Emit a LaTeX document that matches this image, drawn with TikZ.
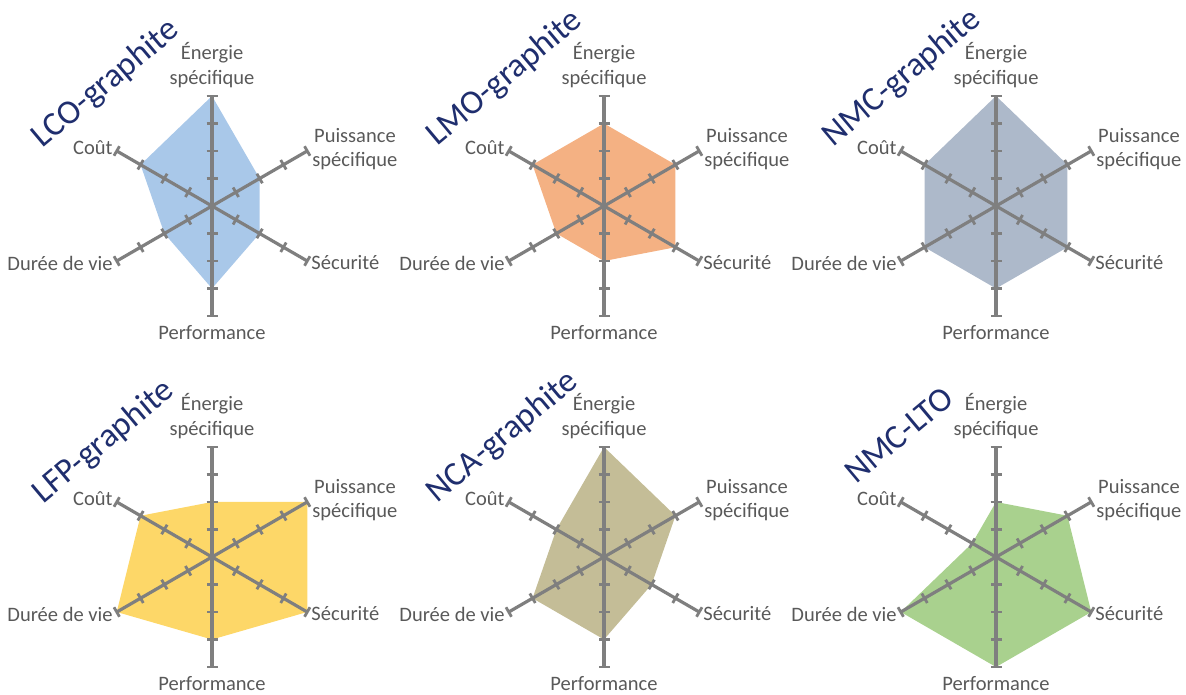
\documentclass[tikz,border=0pt]{standalone}
\usepackage{fontspec}
\setmainfont{Carlito}
\usetikzlibrary{calc}
\definecolor{axisgray}{HTML}{7F7F7F}
\definecolor{labelgray}{HTML}{595959}
\definecolor{titleblue}{HTML}{1F2E6E}
\definecolor{clco}{HTML}{A9C8E9}
\definecolor{clmo}{HTML}{F4B183}
\definecolor{cnmc}{HTML}{ADB9CA}
\definecolor{clfp}{HTML}{FDD768}
\definecolor{cnca}{HTML}{C4BD97}
\definecolor{clto}{HTML}{A9D18E}
\tikzset{
  axisline/.style={draw=axisgray, line width=3.2pt},
  tickline/.style={draw=axisgray, line width=2.8pt},
  axislabel/.style={text=labelgray, font=\fontsize{20.5}{24.5}\selectfont, inner sep=0pt, align=center},
  charttitle/.style={text=titleblue, font=\fontsize{34}{38}\selectfont, rotate=40, fill=white, inner sep=0pt},
}
\newcommand\radarcoords[3]{%
  \coordinate (#1c) at (#2,#3);
  \coordinate (#1e) at ($(#1c)+(90:110)$);
  \coordinate (#1p) at ($(#1c)+(30:110)$);
  \coordinate (#1s) at ($(#1c)+(-30:110)$);
  \coordinate (#1f) at ($(#1c)+(-90:110)$);
  \coordinate (#1d) at ($(#1c)+(210:110)$);
  \coordinate (#1k) at ($(#1c)+(150:110)$);
}
\newcommand\radarpoly[8]{%
  \fill[#2] ($(#1c)+(90:27.5*#3)$) -- ($(#1c)+(30:27.5*#4)$) -- ($(#1c)+(-30:27.5*#5)$)
    -- ($(#1c)+(-90:27.5*#6)$) -- ($(#1c)+(210:27.5*#7)$) -- ($(#1c)+(150:27.5*#8)$) -- cycle;
}
\newcommand\radaraxes[1]{%
  \foreach \n/\a in {e/90,p/30,s/-30,f/-90,d/210,k/150}{
    \draw[axisline] (#1c) -- (#1\n);
    \foreach \k in {1,...,4}{
      \draw[tickline] ($(#1c)+(\a:27.5*\k)+(\a+90:5.5)$) -- ($(#1c)+(\a:27.5*\k)+(\a-90:5.5)$);
    }
  }
  \node[axislabel, anchor=south] (#1le) at ($(#1e)+(0,8)$) {Énergie\\spécifique};
  \node[axislabel, anchor=west] (#1lp) at ($(#1p)+(5,2)$) {Puissance\\spécifique};
  \node[axislabel, anchor=west] (#1ls) at ($(#1s)+(4,-2)$) {Sécurité};
  \node[axislabel, anchor=north] (#1lf) at ($(#1f)+(0,-9)$) {Performance};
  \node[axislabel, anchor=east] (#1ld) at ($(#1d)+(-4,-2)$) {Durée de vie};
  \node[axislabel, anchor=east] (#1lk) at ($(#1k)+(-4,3)$) {Coût};
}
\begin{document}
\begin{tikzpicture}[x=1pt,y=1pt]
\useasboundingbox (0,0) rectangle (1186,695);
% row 1
\radarcoords{a}{212}{489}
\radarpoly{a}{clco}{4}{2}{2}{3}{2}{3}
\radaraxes{a}
\node[charttitle] (at) at ($(ac)+(-106,122)$) {LCO-graphite};

\radarcoords{b}{604}{489}
\radarpoly{b}{clmo}{3}{3}{3}{2}{2}{3}
\radaraxes{b}
\node[charttitle] (bt) at ($(bc)+(-99,128)$) {LMO-graphite};

\radarcoords{c}{996}{489}
\radarpoly{c}{cnmc}{4}{3}{3}{3}{3}{3}
\radaraxes{c}
\node[charttitle] (ct) at ($(cc)+(-94,128)$) {NMC-graphite};

% row 2
\radarcoords{d}{212}{138}
\radarpoly{d}{clfp}{2}{4}{4}{3}{4}{3}
\radaraxes{d}
\node[charttitle] (dt) at ($(dc)+(-108,115)$) {LFP-graphite};

\radarcoords{e}{604}{138}
\radarpoly{e}{cnca}{4}{3}{2}{3}{3}{2}
\radaraxes{e}
\node[charttitle] (et) at ($(ec)+(-101,120)$) {NCA-graphite};

\radarcoords{f}{996}{138}
\radarpoly{f}{clto}{2}{3}{4}{4}{4}{1}
\radaraxes{f}
\node[charttitle] (ft) at ($(fc)+(-97,122)$) {NMC-LTO};
\end{tikzpicture}
\end{document}
